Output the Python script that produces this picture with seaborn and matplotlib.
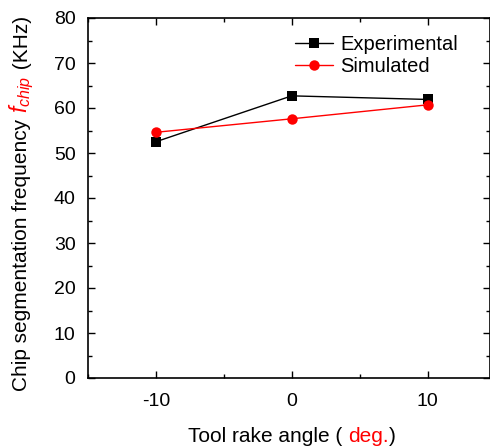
import matplotlib
matplotlib.use("Agg")
import matplotlib.pyplot as plt
import seaborn as sns
import pandas as pd
from matplotlib.ticker import MultipleLocator

rake_angle = [-10, 0, 10]
experimental = [52.5, 62.7, 61.9]
simulated = [54.6, 57.6, 60.7]
series_names = ["Experimental", "Simulated"]

df = pd.DataFrame({
    "angle": rake_angle * 2,
    "freq": experimental + simulated,
    "series": [series_names[0]] * 3 + [series_names[1]] * 3,
})

sns.set_theme(style="ticks")
plt.rcParams["font.family"] = ["Liberation Sans", "DejaVu Sans"]
plt.rcParams["axes.unicode_minus"] = False
plt.rcParams["mathtext.fontset"] = "custom"
plt.rcParams["mathtext.it"] = "Liberation Sans:italic"
plt.rcParams["mathtext.rm"] = "Liberation Sans"
plt.rcParams["text.color"] = "black"
plt.rcParams["xtick.color"] = "black"
plt.rcParams["ytick.color"] = "black"
plt.rcParams["xtick.labelcolor"] = "black"
plt.rcParams["ytick.labelcolor"] = "black"

fig = plt.figure(figsize=(4.9, 4.46), dpi=100)
ax = fig.add_axes([88 / 490, 1 - 378 / 446, (490 - 88) / 490, (378 - 18) / 446])

sns.lineplot(data=df, x="angle", y="freq", hue="series", style="series",
             markers={"Experimental": "s", "Simulated": "o"}, dashes=False,
             palette={"Experimental": "black", "Simulated": "red"},
             markersize=7.5, markeredgewidth=0, linewidth=1, ax=ax)

ax.set_xlim(-15, 14.6)
ax.set_ylim(0, 80)
ax.xaxis.set_major_locator(MultipleLocator(10))
ax.xaxis.set_minor_locator(MultipleLocator(5))
ax.yaxis.set_major_locator(MultipleLocator(10))
ax.yaxis.set_minor_locator(MultipleLocator(5))
ax.tick_params(which="both", direction="in", top=True, right=True, width=1,
               colors="black", labelcolor="black", labelsize=14)
ax.tick_params(which="major", length=5)
ax.tick_params(which="minor", length=3)
ax.tick_params(axis="x", pad=11)
ax.tick_params(axis="y", pad=9)
for s in ax.spines.values():
    s.set_linewidth(1.2)
    s.set_color("black")
ax.set_xlabel("")
ax.set_ylabel("")

leg = ax.legend(loc="upper right", frameon=False, fontsize=14.5, handlelength=1.9,
                handletextpad=0.35, borderaxespad=0.2, labelspacing=0.12,
                bbox_to_anchor=(0.95, 0.985))
for t in leg.get_texts():
    t.set_color("black")

fig.canvas.draw()
r = fig.canvas.get_renderer()

# y label pieces
fs = 15
x_fig = 22 / 490
y0 = 1 - 391 / 446
t1 = fig.text(x_fig, y0, "Chip segmentation frequency ", rotation=90, fontsize=fs,
              ha="center", va="bottom", color="black")
fig.canvas.draw()
bb = t1.get_window_extent(r).transformed(fig.transFigure.inverted())
t2 = fig.text(x_fig, bb.y1, r"$f_{chip}$", rotation=90, fontsize=fs + 1.5,
              ha="center", va="bottom", color="red")
fig.canvas.draw()
bb2 = t2.get_window_extent(r).transformed(fig.transFigure.inverted())
t3 = fig.text(x_fig, bb2.y1 + 0.003, " (KHz)", rotation=90, fontsize=fs,
              ha="center", va="bottom", color="black")

# x label pieces
yx = 1 - 436 / 446
parts = [("Tool rake angle ( ", "black"), ("deg.", "red"), (")", "black")]
texts = []
for s, c in parts:
    t = fig.text(0, yx, s, fontsize=fs, color=c, ha="left", va="center")
    texts.append(t)
fig.canvas.draw()
widths = [t.get_window_extent(r).transformed(fig.transFigure.inverted()).width for t in texts]
total = sum(widths)
xcur = 292 / 490 - total / 2
for t, w in zip(texts, widths):
    t.set_x(xcur)
    xcur += w

fig.savefig("out.png", dpi=100)
